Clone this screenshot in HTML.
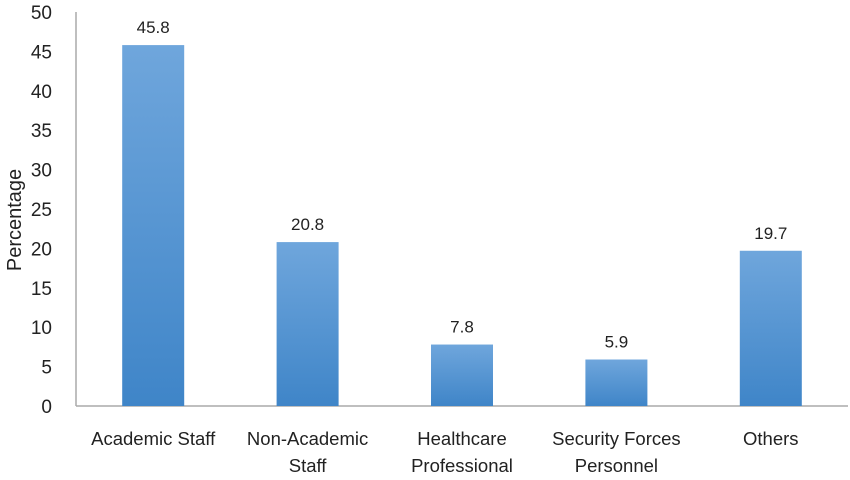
<!DOCTYPE html>
<html><head><meta charset="utf-8"><style>
body{margin:0;background:#fff;}
svg text{font-family:"Liberation Sans",sans-serif;fill:#222;}
</style></head><body>
<svg id="chart" width="850" height="475" xmlns="http://www.w3.org/2000/svg">
<defs><linearGradient id="g" x1="0" y1="0" x2="0" y2="1"><stop offset="0" stop-color="#6fa6dc"/><stop offset="1" stop-color="#3f85c8"/></linearGradient></defs>
<g id="yaxis"></g>
<g id="bars"></g>
<text transform="translate(21,220) rotate(-90)" text-anchor="middle" font-size="20">Percentage</text>
</svg>
<script>
const categories=[["Academic Staff"],["Non-Academic","Staff"],["Healthcare","Professional"],["Security Forces","Personnel"],["Others"]];
const values=[45.8,20.8,7.8,5.9,19.7];
const valueLabels=["45.8","20.8","7.8","5.9","19.7"];
const yTicks=[0,5,10,15,20,25,30,35,40,45,50];
const NS="http://www.w3.org/2000/svg";
const x0=76,step=154.4,y0=406,yTop=12,yMax=50,bw=62;
const y=v=>y0-(v/yMax)*(y0-yTop);
const xc=i=>x0+step*(i+0.5);
function mk(t,a,p){const e=document.createElementNS(NS,t);for(const k in a)e.setAttribute(k,a[k]);p.appendChild(e);return e;}
const ya=document.getElementById('yaxis'),bg=document.getElementById('bars');
const al=mk('line',{x1:x0,y1:yTop,x2:x0,y2:y0,stroke:'#aaa','stroke-width':1.5},ya);


const bl=mk('line',{x1:x0,y1:y0,x2:848,y2:y0,stroke:'#aaa','stroke-width':1.5},ya);


yTicks.forEach(t=>{const e=mk('text',{x:52,y:y(t)+7,'text-anchor':'end','font-size':19},ya);e.textContent=t;

});
values.forEach((v,i)=>{
const r=mk('rect',{x:xc(i)-bw/2,y:y(v),width:bw,height:y0-y(v),fill:'url(#g)'},bg);


const l=mk('text',{x:xc(i),y:y(v)-12,'text-anchor':'middle','font-size':17},bg);l.textContent=valueLabels[i];


categories[i].forEach((s,j)=>{const c=mk('text',{x:xc(i),y:445+j*27,'text-anchor':'middle','font-size':18.5},bg);c.textContent=s;

});
});
</script>
</body></html>
